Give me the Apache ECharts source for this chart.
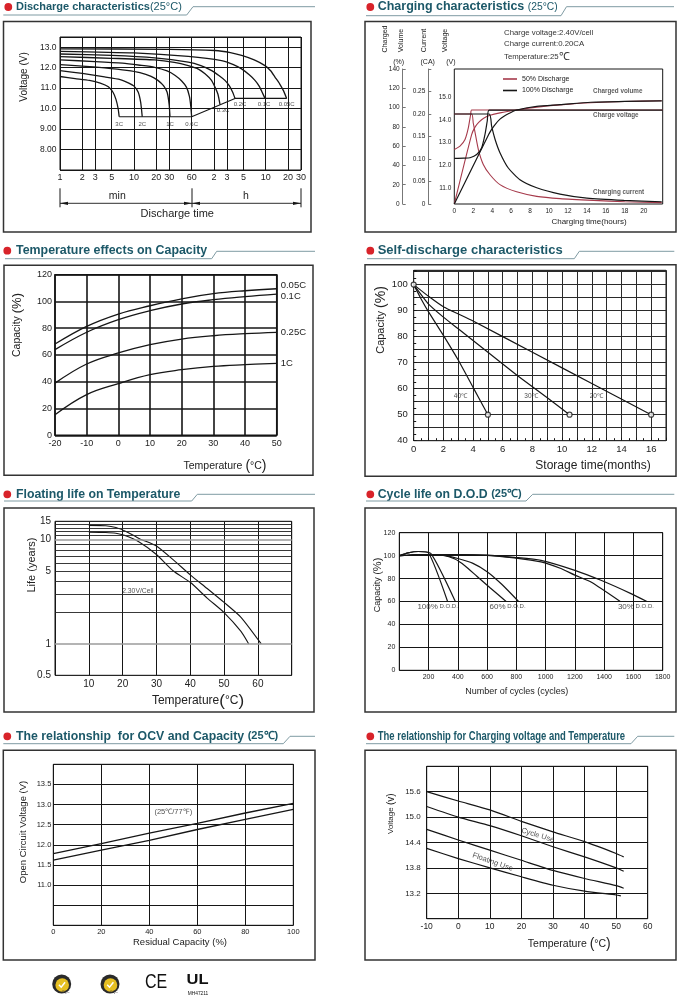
<!DOCTYPE html>
<html>
<head>
<meta charset="utf-8">
<title>Battery characteristics</title>
<script src="https://cdn.jsdelivr.net/npm/echarts@6/dist/echarts.min.js"></script>
<style>
html,body{margin:0;padding:0;background:#fff;}
#chart{width:682px;height:1000px;}
</style>
</head>
<body>
<div id="chart"></div>
<script>
// ================= DATA =================
// Panel 1: Discharge characteristics (x = minutes, log scale)
const dischargeTicks = [1,2,3,5,10,20,30,60,120,180,300,600,1200,1800];
const dischargeTickLabels = ['1','2','3','5','10','20','30','60','2','3','5','10','20','30'];
const dischargeVoltTicks = [8,9,10,11,12,13];
const dischargeVoltTickLabels = ['8.00','9.00','10.0','11.0','12.0','13.0'];
const dischargeRates = ['3C','2C','1C','0.6C','0.3C','0.2C','0.1C','0.05C'];
const dc3C = [[1,11.57],[1.6,11.47],[2.5,11.38],[3.5,11.25],[4.5,11.07],[5.2,10.8],[5.7,10.45],[6.1,10.0],[6.3,9.6]];
const dc2C = [[1,11.86],[2,11.72],[4,11.55],[6.5,11.42],[8.5,11.25],[10,11.1],[11.4,10.8],[12.3,10.3],[12.9,9.6]];
const dc1C = [[1,12.15],[2,12.08],[4,11.99],[8,11.87],[12,11.76],[17,11.58],[21,11.38],[25,11.12],[28,10.8],[29.8,10.2],[30.6,9.6]];
const dc06C = [[1,12.38],[3,12.3],[7,12.22],[12,12.12],[19,12.02],[28,11.84],[36,11.62],[44,11.35],[51,11.05],[56,10.6],[58.5,10.1],[60,9.6]];
const dc03C = [[1,12.54],[5,12.46],[19,12.38],[35,12.26],[54,12.1],[75,11.92],[91,11.7],[110,11.4],[124,11.05],[136,10.7],[145,10.19]];
const dc02C = [[1,12.67],[5,12.6],[19,12.48],[54,12.27],[80,12.1],[112,11.86],[140,11.62],[169,11.38],[195,11.1],[215,10.8],[231,10.5]];
const dc01C = [[1,12.8],[10,12.72],[54,12.55],[152,12.35],[220,12.15],[284,11.94],[360,11.65],[430,11.38],[490,11.1],[530,10.85],[587,10.5]];
const dc005C = [[1,12.92],[30,12.9],[124,12.84],[200,12.74],[284,12.6],[420,12.38],[587,12.1],[700,11.85],[801,11.54],[930,11.2],[1038,10.89],[1152,10.5]];
const dischargeCutoff = [[6.3,9.6],[60,9.6],[231,10.5],[1152,10.5]];

// Panel 2: Charging characteristics (x = hours)
const chargeVoltTicks = [11,12,13,14,15];
const chargeVolt50 = [[0,12.7],[0.6,12.85],[1.13,13.14],[1.48,13.65],[1.73,14.24],[1.83,14.43],[22,14.43]];
const chargeVolt100 = [[0,12.31],[1,12.32],[1.66,12.34],[2.36,12.48],[2.89,12.78],[3.24,13.36],[3.48,13.95],[3.68,14.43],[22,14.43]];
const chargeCurr50 = [[0,0.2],[1.83,0.2],[2.0,0.18],[2.19,0.159],[2.54,0.121],[3.06,0.088],[3.77,0.065],[4.82,0.043],[6.58,0.027],[8.7,0.017],[11.16,0.012],[14.7,0.008],[18,0.005],[21.9,0.003]];
const chargeCurr100 = [[0,0.2],[3.68,0.2],[3.94,0.173],[4.3,0.144],[4.82,0.114],[5.7,0.08],[6.93,0.054],[8.7,0.036],[11.16,0.022],[14,0.013],[17.9,0.008],[21.9,0.005]];
const chargeVol50 = [[0,0],[1.83,72],[2.2,80],[2.6,85],[3.1,89],[3.77,92],[4.82,94.5],[6.58,97.5],[8.7,100.5],[11.16,102.8],[14.4,105],[18,106.3],[21.9,107]];
const chargeVol100 = [[0,0],[3.68,73],[4.2,81],[4.82,88],[5.7,93.5],[6.58,97.5],[8.7,101.3],[11.16,103],[14.4,105.5],[18,106.5],[21.9,107]];
const chargeSeriesNames = ['50% Discharge','100% Discharge'];
const chargeNotes = ['Charged volume','Charge voltage','Charging current'];

// Panel 3: Temperature effects on capacity
const tempC = [-20,-10,0,10,20,30,40,50];
const tempCapRates = ['0.05C','0.1C','0.25C','1C'];
const cap005C = [68.2,81.4,90.6,96.8,102,105.8,108,109.5];
const cap01C = [64,77,86.4,93.1,98.1,101.3,103.6,105.5];
const cap025C = [39,53.3,61.5,67.7,71.9,74.4,75.9,76.9];
const cap1C = [15.4,30.4,38.6,45.3,49,51.5,52.8,53.8];

// Panel 4: Self-discharge (x = months)
const sd40C = [[0,100],[0.5,94.5],[1,89.5],[2,80.5],[3,71],[4,60.5],[5,50]];
const sd30C = [[0,100],[1,92.5],[2,87.5],[3,83],[5,74],[7,65],[9,56.5],[10.5,50]];
const sd20C = [[0,100],[1,95.5],[2,91.5],[4,86],[8,74],[12,62],[16,50]];
const sdTempLabels = ['40℃','30℃','20℃'];
const sdTempLabelPos = [[3.15,57],[7.9,57],[12.3,57]];

// Panel 5: Floating life vs temperature (y = years, log)
const lifeGridValues = [0.5,1,2,3,4,5,6,7,8,9,10,11,12,13,14,15];
const lifeTickValues = [15,10,5,1,0.5];
const lifeTickLabels = ['15','10','5','1','0.5'];
const lifeUpper = [[10,13.7],[15,13.6],[18,13.1],[21,12],[25,10.2],[30,8.7],[35,6.4],[40,4.6],[45,3.4],[50,2.5],[55,1.8],[61,1]];
const lifeLower = [[10,11.8],[15,11.7],[18,11.5],[20.5,11],[25,9.45],[30,7.2],[35,5],[40,3.9],[45,2.75],[50,2],[55,1.32],[57.3,1]];
const lifeNote = '2.30V/Cell';
const lifeNotePos = [24.5,3.2];

// Panel 6: Cycle life on D.O.D.
const dod100a = [[0,100],[60,102.4],[130,103.6],[200,102.3],[330,60]];
const dod100b = [[0,100],[60,102.4],[130,103.6],[215,102],[383,60]];
const dod60a = [[0,100],[150,101],[300,100.3],[380,97],[450,91],[530,82],[620,72],[730,60]];
const dod60b = [[0,100],[150,101],[300,100.5],[400,97.5],[500,93.5],[600,86],[700,75],[815,60]];
const dod30a = [[0,100],[200,101],[400,101],[600,100.3],[786,98],[968,94.5],[1100,89],[1200,83],[1310,77],[1510,60]];
const dod30b = [[0,100],[200,101],[400,101],[600,100.5],[786,98.5],[968,95.9],[1200,87.2],[1378,78.5],[1583,66.9],[1692,60]];
const dodLabels = ['100%','60%','30%'];
const dodLabelPos = [[262,55.8],[740,55.8],[1617,55.8]];

// Panel 7: OCV vs residual capacity
const resCap = [0,20,40,60,80,100];
const ocvUpper = [11.78,12.03,12.29,12.53,12.79,13.03];
const ocvLower = [11.62,11.87,12.11,12.38,12.63,12.88];
const ocvNote = '(25℃/77℉)';
const ocvNotePos = [50,12.81];

// Panel 8: Charging voltage vs temperature
const cycleUpper = [[-10,15.6],[0,15.38],[10,15.17],[20,14.9],[30,14.65],[40,14.42],[50,14.14],[52.4,14.06]];
const cycleLower = [[-10,15.25],[0,15.0],[10,14.8],[20,14.56],[30,14.3],[40,14.06],[50,13.8],[52.4,13.72]];
const floatUpper = [[-10,14.71],[0,14.46],[10,14.22],[20,13.98],[30,13.74],[40,13.55],[50,13.38],[52.4,13.32]];
const floatLower = [[-10,14.26],[0,14.02],[10,13.8],[20,13.59],[30,13.39],[40,13.25],[50,13.16],[51.5,13.14]];
const useLabels = ['Cycle Use','Floating Use'];
const useLabelPos = [[25.2,14.57],[10.9,13.94]];

// ================= STYLE / BUILD =================
const RED = '#a63a4b';
const INK = '#161616';
const TXT = '#222';
const TITLE = '#1c5868';
const FONT = "'Liberation Sans', Arial, Helvetica, sans-serif";
const PI2 = Math.PI / 2;

const grid = [], xAxis = [], yAxis = [], series = [], graphic = [], visualMap = [];

function addGrid(o) {
  grid.push(Object.assign({show: true, borderColor: INK, borderWidth: 1, backgroundColor: 'transparent'}, o));
  return grid.length - 1;
}
function axis(arr, o) {
  const a = Object.assign({type: 'value', axisLine: {show: false}, axisTick: {show: false},
    splitLine: {show: true, lineStyle: {color: INK, width: 1}}}, o, {gridIndex: grid.length - 1});
  a.axisLabel = Object.assign({color: TXT, fontFamily: FONT}, o.axisLabel || {});
  arr.push(a);
  return arr.length - 1;
}
function addLine(xi, yi, data, o) {
  o = o || {};
  const col = o.color || INK, w = o.width || 1.2;
  const s = Object.assign({type: 'line', xAxisIndex: xi, yAxisIndex: yi, data: data, showSymbol: false,
    symbol: 'none', silent: true, z: 3, lineStyle: {color: col, width: w}, itemStyle: {color: col}}, o);
  delete s.color; delete s.width;
  series.push(s);
  return series.length - 1;
}
function addLabels(xi, yi, items, label) {
  series.push({type: 'scatter', xAxisIndex: xi, yAxisIndex: yi, symbolSize: 1, silent: true, z: 6,
    itemStyle: {color: 'rgba(0,0,0,0)'},
    label: Object.assign({show: true, color: TXT, fontFamily: FONT, formatter: '{b}'}, label),
    data: items});
}
function addMarkLines(xi, yi, items, label, lineStyle) {
  series.push({type: 'line', xAxisIndex: xi, yAxisIndex: yi, data: [], silent: true, z: 1,
    markLine: {silent: true, animation: false, symbol: ['none', 'none'],
      lineStyle: Object.assign({color: INK, width: 1, type: 'solid'}, lineStyle || {}),
      label: Object.assign({show: true, position: 'start', formatter: '{b}', color: TXT, fontFamily: FONT}, label),
      emphasis: {disabled: true}, data: items}});
}
function T(x, y, text, size, o) {
  o = o || {};
  const st = {text: text, fill: o.fill || TXT, fontSize: size, fontFamily: FONT, fontWeight: o.weight || 'normal',
    align: o.align || 'center', verticalAlign: 'middle'};
  if (o.rich) st.rich = o.rich;
  graphic.push({type: 'text', x: x, y: y, rotation: o.rot || 0, scaleX: o.sx || 1, silent: true, z: 50, style: st});
}
function rs(size, extra) { return Object.assign({fontSize: size, fontFamily: FONT, fill: TXT}, extra || {}); }
function tr(size, bold) { return {fontSize: size, fontWeight: bold ? 'bold' : 'normal', fontFamily: FONT, fill: TITLE}; }
function title(dot, textX, text, rich, line, sx) {
  graphic.push({type: 'circle', silent: true, z: 50, shape: {cx: dot[0], cy: dot[1], r: 3.9}, style: {fill: '#d8232a'}});
  graphic.push({type: 'text', silent: true, z: 50, x: textX, y: dot[1], scaleX: sx || 1,
    style: {text: text, rich: rich, align: 'left', verticalAlign: 'middle'}});
  graphic.push({type: 'polyline', silent: true, z: 50, shape: {points: line}, style: {stroke: '#7f9ba3', lineWidth: 1, fill: null}});
}
function box(x, y, w, h) {
  graphic.push({type: 'rect', silent: true, z: 40, shape: {x: x, y: y, width: w, height: h},
    style: {fill: null, stroke: '#333', lineWidth: 1.5}});
}
function seg(p, w) {
  graphic.push({type: 'polyline', silent: true, z: 50, shape: {points: p}, style: {stroke: INK, lineWidth: w || 1, fill: null}});
}
function tri(p) {
  graphic.push({type: 'polygon', silent: true, z: 50, shape: {points: p}, style: {fill: INK}});
}
const pairs = (xs, ys) => xs.map((x, i) => [x, ys[i]]);

// ---------- boxes ----------
box(3.5, 21.5, 307.5, 210.5);
box(365, 21.5, 311, 210.5);
box(4, 265.3, 309, 210);
box(365, 264.7, 311, 211.6);
box(4, 508, 310, 204);
box(365, 508, 311, 204);
box(3.3, 750.3, 311.7, 209.7);
box(365, 750.3, 311, 209.7);

// ---------- titles ----------
title([8.3, 7], 16, '{t|Discharge characteristics}{p|(25°C)}', {t: tr(11, true), p: tr(11, false)},
  [[3.3, 15], [186.7, 15], [193, 6.7], [315, 6.7]]);
title([370.3, 7], 377.7, '{t|Charging characteristics }{p|(25°C)}', {t: tr(12.5, true), p: tr(10.3, false)},
  [[366, 15.7], [561, 15.7], [566.5, 6.7], [674, 6.7]]);
title([7.3, 250.7], 16, '{t|Temperature effects on Capacity}', {t: tr(12.4, true)},
  [[5, 258.7], [211.7, 258.7], [216.7, 251.3], [315, 251.3]]);
title([370.3, 250.7], 377.7, '{t|Self-discharge characteristics}', {t: tr(13, true)},
  [[367, 258.7], [574.3, 258.7], [579.3, 251.3], [674.3, 251.3]]);
title([7.3, 494.3], 16, '{t|Floating life on Temperature}', {t: tr(12.3, true)},
  [[4, 501], [191.7, 501], [197.3, 494.3], [315, 494.3]]);
title([370.3, 494.3], 377.7, '{t|Cycle life on D.O.D }{p|(25℃)}', {t: tr(12.3, true), p: tr(11, true)},
  [[366, 501], [526, 501], [532.7, 494.3], [674.3, 494.3]]);
title([7.3, 736.3], 16, '{t|The relationship  for OCV and Capacity }{p|(25℃)}', {t: tr(12.3, true), p: tr(11, true)},
  [[3.3, 743.7], [283.3, 743.7], [290, 736.3], [315, 736.3]]);
title([370.3, 736.3], 377.7, '{t|The relationship for Charging voltage and Temperature}', {t: tr(12, true)},
  [[366, 743.7], [631, 743.7], [637.7, 736.3], [674.3, 736.3]], 0.79);

// ================= PANEL 1 =================
addGrid({left: 60, top: 37, width: 241, height: 133});
const x1 = axis(xAxis, {type: 'log', logBase: 10, min: 1, max: 1800, splitLine: {show: false},
  minorTick: {show: false}, minorSplitLine: {show: false}, axisLabel: {show: false}});
const y1 = axis(yAxis, {min: 7, max: 13.5, interval: 1,
  axisLabel: {fontSize: 8.5, margin: 3.5, formatter: v => {
    const i = dischargeVoltTicks.indexOf(Math.round(v * 100) / 100); return i < 0 ? '' : dischargeVoltTickLabels[i]; }}});
addMarkLines(x1, y1, dischargeTicks.map((v, i) => ({xAxis: v, name: dischargeTickLabels[i]})),
  {fontSize: 9, distance: 3});
const dischargeCurves = [dc3C, dc2C, dc1C, dc06C, dc03C, dc02C, dc01C, dc005C];
dischargeCurves.forEach(c => addLine(x1, y1, c, {smooth: 0.2, width: 1.3}));
addLine(x1, y1, dischargeCutoff, {width: 1.1});
const dischargeLabelOffsets = [[0, 2], [0, 2], [0, 2], [0, 2], [3, 0], [5, 0], [-1, 0], [0, 0]];
addLabels(x1, y1, dischargeRates.map((n, i) => ({name: n, value: dischargeCurves[i][dischargeCurves[i].length - 1],
  label: {offset: dischargeLabelOffsets[i]}})), {position: 'bottom', distance: 2, fontSize: 6});
T(24, 77, 'Voltage (V)', 10, {rot: PI2});
T(117.3, 196, 'min', 10.5);
T(246, 196, 'h', 10.5);
T(177.3, 214, 'Discharge time', 11);
seg([[60, 188.3], [60, 207.3]]); seg([[192, 188.3], [192, 207.3]]); seg([[301, 188.3], [301, 207.3]]);
seg([[60, 203.3], [192, 203.3]], 0.9); seg([[192, 203.3], [301, 203.3]], 0.9);
tri([[60, 203.3], [68, 201.7], [68, 204.9]]); tri([[192, 203.3], [184, 201.7], [184, 204.9]]);
tri([[192, 203.3], [200, 201.7], [200, 204.9]]); tri([[301, 203.3], [293, 201.7], [293, 204.9]]);

// ================= PANEL 2 =================
addGrid({left: 454.3, top: 69, width: 208.4, height: 135});
const x2 = axis(xAxis, {min: 0, max: 22, interval: 2, splitLine: {show: false},
  axisLabel: {fontSize: 6.5, margin: 4, formatter: v => v >= 22 ? '' : String(v)}});
const y2v = axis(yAxis, {min: 10.31, max: 16.23, splitLine: {show: false},
  axisLabel: {fontSize: 6.5, margin: 3, customValues: chargeVoltTicks, formatter: v => Number(v).toFixed(1)}});
const y2q = axis(yAxis, {position: 'left', offset: 51.6, min: 0, max: 140, interval: 20, splitLine: {show: false},
  axisLine: {show: true, lineStyle: {color: '#777', width: 1}},
  axisTick: {show: true, inside: true, length: 3, lineStyle: {color: '#777'}},
  axisLabel: {fontSize: 6.5, margin: 3}});
const y2c = axis(yAxis, {position: 'left', offset: 26, min: 0, max: 0.3, interval: 0.05, splitLine: {show: false},
  axisLine: {show: true, lineStyle: {color: '#777', width: 1}},
  axisTick: {show: true, inside: true, length: 3, lineStyle: {color: '#777'}},
  axisLabel: {fontSize: 6.5, margin: 3, formatter: v => v > 0.29 ? '' : (v === 0 ? '0' : Number(v).toFixed(2))}});
const chargeSm = {smooth: 0.2};
addLine(x2, y2v, chargeVolt50, Object.assign({name: chargeSeriesNames[0], color: RED, width: 1.1}, chargeSm));
addLine(x2, y2q, chargeVol50, Object.assign({name: chargeSeriesNames[0], color: RED, width: 1.1}, chargeSm));
addLine(x2, y2c, chargeCurr50, Object.assign({name: chargeSeriesNames[0], color: RED, width: 1.1}, chargeSm));
addLine(x2, y2v, chargeVolt100, Object.assign({name: chargeSeriesNames[1], color: INK, width: 1.2}, chargeSm));
addLine(x2, y2q, chargeVol100, Object.assign({name: chargeSeriesNames[1], color: INK, width: 1.2}, chargeSm));
addLine(x2, y2c, chargeCurr100, Object.assign({name: chargeSeriesNames[1], color: INK, width: 1.2}, chargeSm));
const noteLbl = {position: 'right', distance: 0, fontSize: 6.3, fontWeight: 'bold', color: '#333'};
addLabels(x2, y2q, [{name: chargeNotes[0], value: [14.6, 116.5]}], noteLbl);
addLabels(x2, y2v, [{name: chargeNotes[1], value: [14.6, 14.22]}], noteLbl);
addLabels(x2, y2c, [{name: chargeNotes[2], value: [14.6, 0.0268]}], noteLbl);
T(385, 39, 'Charged', 7, {rot: PI2});
T(401, 40.5, 'Volume', 7, {rot: PI2});
T(423.7, 40.5, 'Current', 7, {rot: PI2});
T(445, 40.5, 'Voltage', 7, {rot: PI2});
T(398.7, 61.7, '(%)', 7); T(427.7, 61.7, '(CA)', 7); T(450.8, 61.7, '(V)', 7);
T(504, 32.7, 'Charge voltage:2.40V/cell', 7.8, {align: 'left', fill: '#333'});
T(504, 44.3, 'Charge current:0.20CA', 7.8, {align: 'left', fill: '#333'});
T(504, 57, '{a|Temperature:25}{b|℃}', 7.8, {align: 'left', rich: {a: rs(7.8, {fill: '#333'}), b: rs(11, {fill: '#333'})}});
T(589, 222, 'Charging time(hours)', 8);

// ================= PANEL 3 =================
addGrid({left: 55, top: 274.7, width: 221.7, height: 160.6, borderWidth: 1.5});
const x3 = axis(xAxis, {min: -20, max: 50, interval: 10, splitLine: {show: true, lineStyle: {color: INK, width: 1.6}},
  axisLabel: {fontSize: 9, margin: 4}});
const y3 = axis(yAxis, {min: 0, max: 120, interval: 20, splitLine: {show: true, lineStyle: {color: INK, width: 1.6}},
  axisLabel: {fontSize: 9, margin: 3}});
const tempCurves = [cap005C, cap01C, cap025C, cap1C];
const tempLabelOffsets = [[0, -3], [0, 2], [0, 0], [0, 0]];
const tempSeriesIdx = tempCurves.map((c, i) => addLine(x3, y3, pairs(tempC, c), {name: tempCapRates[i], smooth: 0.4,
  width: 1.3, endLabel: {show: true, formatter: '{a}', color: TXT, fontFamily: FONT, fontSize: 9.5, distance: 4,
    offset: tempLabelOffsets[i]}}));
visualMap.push({type: 'piecewise', show: false, dimension: 0, seriesIndex: tempSeriesIdx,
  pieces: [{lt: -1, color: RED}, {gte: -1, lte: 40, color: INK}, {gt: 40, color: RED}]});
T(225, 466, '{a|Temperature }{b|(}{a|°C}{b|)}', 10.5, {rich: {a: rs(10.5), b: rs(14)}});
T(17, 325, '{a|Capacity }{b|(%)}', 10.5, {rot: PI2, rich: {a: rs(10.5), b: rs(13)}});

// ================= PANEL 4 =================
addGrid({left: 413.7, top: 270.3, width: 252.3, height: 170.4});
const x4 = axis(xAxis, {min: 0, max: 17, interval: 1, splitLine: {show: true, lineStyle: {color: '#2a2a2a', width: 1}},
  axisTick: {show: true, inside: true, length: 3, lineStyle: {color: INK}},
  minorTick: {show: true, splitNumber: 2, length: 2.5, lineStyle: {color: INK}},
  axisLabel: {fontSize: 9.5, margin: 4, formatter: v => (v % 2 === 0 && v < 17) ? String(v) : ''}});
const y4 = axis(yAxis, {min: 40, max: 105.5, interval: 5, splitLine: {show: true, lineStyle: {color: '#2a2a2a', width: 1}},
  axisTick: {show: true, inside: true, length: 3, lineStyle: {color: INK}},
  minorTick: {show: true, splitNumber: 2, length: 2.5, lineStyle: {color: INK}},
  axisLabel: {fontSize: 9.5, margin: 6, formatter: v => (v % 10 === 0) ? String(v) : ''}});
[sd40C, sd30C, sd20C].forEach(c => addLine(x4, y4, c, {smooth: 0.15, width: 1.2}));
const sdEndPoints = [sd40C[0], sd40C[sd40C.length - 1], sd30C[sd30C.length - 1], sd20C[sd20C.length - 1]];
series.push({type: 'scatter', xAxisIndex: x4, yAxisIndex: y4, silent: true, z: 7, symbol: 'circle', symbolSize: 5,
  itemStyle: {color: '#fff', borderColor: INK, borderWidth: 1.2}, data: sdEndPoints});
addLabels(x4, y4, sdTempLabels.map((n, i) => ({name: n, value: sdTempLabelPos[i]})), {position: 'inside', fontSize: 6.5});
T(593, 466, 'Storage time(months)', 12);
T(381, 320, '{a|Capacity }{b|(%)}', 11, {rot: PI2, rich: {a: rs(11), b: rs(14)}});

// ================= PANEL 5 =================
addGrid({left: 55, top: 521.3, width: 236.7, height: 154});
const x5 = axis(xAxis, {min: 0, max: 70, interval: 10,
  axisLabel: {fontSize: 10, margin: 4, formatter: v => (v === 0 || v === 70) ? '' : String(v)}});
const y5 = axis(yAxis, {type: 'log', logBase: 10, min: 0.5, max: 15, splitLine: {show: false},
  minorTick: {show: false}, minorSplitLine: {show: false}, axisLabel: {show: false}});
addMarkLines(x5, y5, lifeGridValues.map(v => {
  const i = lifeTickValues.indexOf(v);
  const item = {yAxis: v, name: i < 0 ? '' : lifeTickLabels[i]};
  if (v === 1 || v === 10) item.lineStyle = {color: '#9b9b9b', width: 1.5, type: 'solid'};
  return item;
}), {fontSize: 10, distance: 4}, {color: '#222', width: 0.9});
addLine(x5, y5, lifeUpper, {smooth: 0.2, width: 1.1});
addLine(x5, y5, lifeLower, {smooth: 0.2, width: 1.1});
addLabels(x5, y5, [{name: lifeNote, value: lifeNotePos}], {position: 'inside', fontSize: 6.8});
T(31.7, 565, 'Life (years)', 11, {rot: PI2});
T(198, 701, '{a|Temperature}{b|(}{a|°C}{b|)}', 12, {rich: {a: rs(12), b: rs(17)}});

// ================= PANEL 6 =================
addGrid({left: 399.3, top: 532.7, width: 263.4, height: 137.6});
const x6 = axis(xAxis, {min: 0, max: 1800, interval: 200,
  axisLabel: {fontSize: 7, margin: 3, formatter: v => v === 0 ? '' : String(v)}});
const y6 = axis(yAxis, {min: 0, max: 120, interval: 20, axisLabel: {fontSize: 7, margin: 4}});
[dod100a, dod100b, dod60a, dod60b, dod30a, dod30b].forEach(c => addLine(x6, y6, c, {smooth: 0.2, width: 1.2}));
addLabels(x6, y6, dodLabels.map((n, i) => ({name: n, value: dodLabelPos[i]})),
  {position: 'inside', formatter: p => '{a|' + p.name + '}{b| D.O.D.}',
   rich: {a: {fontSize: 8, fontFamily: FONT, color: TXT}, b: {fontSize: 6, fontFamily: FONT, color: TXT}}});
T(516.7, 691.3, 'Number of cycles (cycles)', 9);
T(377.7, 585, '{a|Capacity }{b|(%)}', 9, {rot: PI2, rich: {a: rs(9), b: rs(11)}});

// ================= PANEL 7 =================
addGrid({left: 53.3, top: 764.3, width: 240, height: 161});
const x7 = axis(xAxis, {min: 0, max: 100, interval: 20, axisLabel: {fontSize: 7.5, margin: 3}});
const y7 = axis(yAxis, {min: 10, max: 14, interval: 0.5, axisLabel: {fontSize: 7.5, margin: 2, formatter: v => {
  const r = Math.round(v * 10) / 10; return (r >= 11 && r <= 13.5) ? r.toFixed(1) : ''; }}});
addLine(x7, y7, pairs(resCap, ocvUpper), {width: 1.3});
addLine(x7, y7, pairs(resCap, ocvLower), {width: 1.3});
addLabels(x7, y7, [{name: ocvNote, value: ocvNotePos}], {position: 'inside', fontSize: 7.5});
T(180, 942, 'Residual Capacity (%)', 9.5);
T(23.3, 832, 'Open Circuit Voltage (V)', 9.5, {rot: PI2});

// ================= PANEL 8 =================
addGrid({left: 426.7, top: 766.3, width: 221, height: 152.4});
const x8 = axis(xAxis, {min: -10, max: 60, interval: 10, axisLabel: {fontSize: 8.5, margin: 3}});
const y8 = axis(yAxis, {min: 12.6, max: 16.2, interval: 0.6, axisLabel: {fontSize: 8, margin: 6, formatter: v => {
  const r = Math.round(v * 10) / 10; return (r >= 13.2 && r <= 15.6) ? r.toFixed(1) : ''; }}});
[cycleUpper, cycleLower, floatUpper, floatLower].forEach(c => addLine(x8, y8, c, {smooth: 0.2, width: 1.2}));
const useRot = [-17, -19];
addLabels(x8, y8, useLabels.map((n, i) => ({name: n, value: useLabelPos[i], label: {rotate: useRot[i]}})),
  {position: 'inside', fontSize: 7.5});
T(569.3, 943.7, '{a|Temperature }{b|(}{a|°C}{b|)}', 10.5, {rich: {a: rs(10.5), b: rs(14)}});
T(391, 813.7, '{a|Voltage }{b|(v)}', 8, {rot: PI2, rich: {a: rs(8), b: rs(10)}});

// ================= LOGOS =================
function badge(cx, cy) {
  graphic.push({type: 'circle', silent: true, z: 50, shape: {cx: cx, cy: cy, r: 9.5}, style: {fill: '#2a2a2a'}});
  graphic.push({type: 'circle', silent: true, z: 51, shape: {cx: cx + 0.5, cy: cy + 1, r: 6.8}, style: {fill: '#e6bf22'}});
  graphic.push({type: 'polyline', silent: true, z: 52, shape: {points: [[cx - 2.8, cy + 0.8], [cx - 0.5, cy + 3.2], [cx + 3.4, cy - 1.8]]},
    style: {stroke: '#fff', lineWidth: 1.5, fill: null}});
  graphic.push({type: 'text', silent: true, z: 52, x: cx + 4, y: cy + 8.5,
    style: {text: 'CQC', fontSize: 3.5, fontFamily: FONT, fill: '#333', align: 'center', verticalAlign: 'middle'}});
}
badge(61.7, 984);
badge(110, 984);
T(156, 982, 'CE', 20, {sx: 0.8, fill: '#111'});
T(197.5, 980, 'UL', 15, {weight: 'bold', fill: '#111', sx: 1.1});
T(198, 993.3, 'MH47211', 4.8, {fill: '#111'});

// ================= RENDER =================
const chart = echarts.init(document.getElementById('chart'), null, {renderer: 'canvas', width: 682, height: 1000});
chart.setOption({
  animation: false,
  backgroundColor: '#fff',
  textStyle: {fontFamily: FONT},
  grid: grid, xAxis: xAxis, yAxis: yAxis, series: series, visualMap: visualMap, graphic: graphic,
  legend: {data: chargeSeriesNames, orient: 'vertical', left: 503, top: 75.5, itemWidth: 14, itemHeight: 1.6,
    itemGap: 4.5, icon: 'rect', selectedMode: false, padding: 0,
    textStyle: {fontSize: 7, color: TXT, fontFamily: FONT}}
});
</script>
</body>
</html>
